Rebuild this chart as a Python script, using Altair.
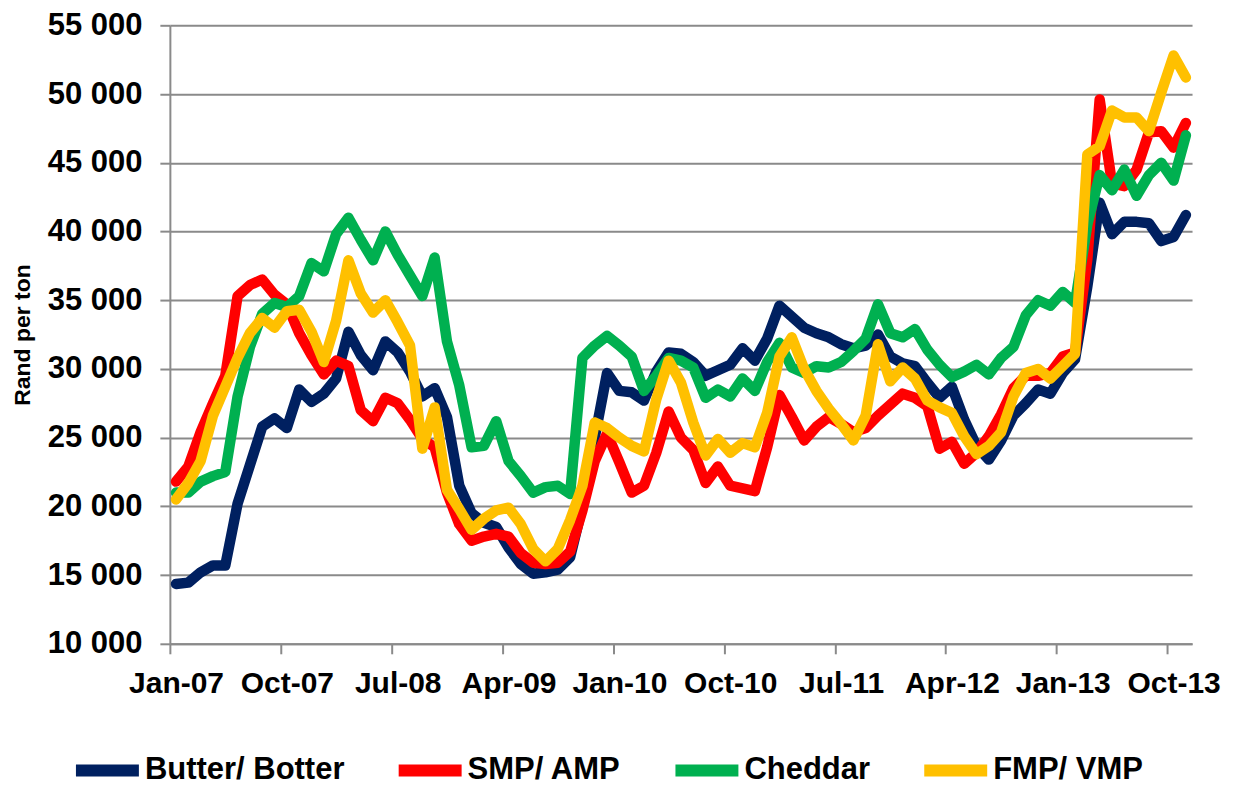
import altair as alt
import pandas as pd

# Monthly prices, Jan-07 .. Nov-13 (83 months), Rand per ton
butter = [14350, 14450, 15200, 15700, 15700, 20200, 23000, 25800, 26400, 25700, 28500, 27600,
          28200, 29300, 32700, 31000, 29900, 32000, 31200, 29800, 28000, 28600, 26500, 21500,
          19500, 18800, 18500, 17000, 15800, 15100, 15200, 15400, 16300, 20000, 25000, 29700,
          28400, 28300, 27700, 29800, 31200, 31100, 30500, 29500, 29900, 30300, 31500, 30600,
          32200, 34600, 33800, 33000, 32600, 32300, 31800, 31500, 31700, 32500, 30900, 30400,
          30200, 29000, 27900, 28700, 26300, 24400, 23400, 24800, 26600, 27500, 28500, 28200,
          29700, 30700, 36000, 42100, 39800, 40700, 40700, 40600, 39300, 39600, 41200]
smp = [21800, 22900, 25400, 27500, 29500, 35300, 36100, 36500, 35400, 34700, 32600, 31000,
       29600, 30600, 30200, 27000, 26200, 27900, 27500, 26300, 24900, 24300, 21000, 18700,
       17500, 17800, 18000, 17800, 16600, 15900, 15800, 15900, 16700, 19700, 23300, 25300,
       23200, 21000, 21500, 23900, 26900, 25000, 24100, 21700, 22900, 21500, 21300, 21100,
       24300, 28100, 26500, 24800, 25800, 26500, 26000, 25400, 25700, 26600, 27400, 28200,
       27900, 27300, 24200, 24700, 23100, 23900, 25100, 26700, 28600, 29500, 29500, 29700,
       30900, 31200, 38000, 49600, 43500, 43300, 44500, 47200, 47300, 46100, 47900]
cheddar = [21000, 21000, 21800, 22200, 22500, 28000, 31600, 34000, 34800, 34500, 35300, 37700,
           37100, 39800, 41000, 39400, 37900, 40000, 38300, 36800, 35300, 38100, 32000, 28800,
           24300, 24400, 26200, 23300, 22200, 21000, 21400, 21500, 20900, 30800, 31700, 32400,
           31700, 30900, 28400, 29500, 30800, 30600, 30100, 27900, 28500, 28000, 29300, 28400,
           30500, 31900, 30100, 29700, 30200, 30100, 30500, 31300, 32200, 34700, 32600, 32300,
           32900, 31400, 30300, 29400, 29800, 30300, 29600, 30800, 31600, 33900, 35000, 34600,
           35600, 34800, 40500, 44100, 43000, 44500, 42600, 44100, 45000, 43700, 47000]
fmp = [20500, 21700, 23300, 26600, 28700, 30800, 32600, 33700, 33000, 34200, 34300, 32700,
       30500, 33500, 37900, 35500, 34100, 35000, 33400, 31700, 24200, 27200, 21200, 19800,
       18300, 19100, 19700, 19900, 18700, 16900, 16000, 16900, 19000, 21500, 26100, 25700,
       25000, 24400, 24000, 27800, 30600, 29000, 26100, 23700, 24900, 23900, 24600, 24300,
       26800, 30900, 32300, 30000, 28400, 27100, 26000, 24800, 26600, 31800, 29100, 30100,
       29300, 27700, 27200, 26800, 25100, 23800, 24400, 25400, 28000, 29700, 30000, 29300,
       30200, 31100, 45600, 46200, 48800, 48300, 48300, 47300, 50100, 52800, 51200]

series_names = ["Butter/ Botter", "SMP/ AMP", "Cheddar", "FMP/ VMP"]
series_colors = ["#002060", "#FF0000", "#00B050", "#FFC000"]
tick_labels = ["Jan-07", "Oct-07", "Jul-08", "Apr-09", "Jan-10",
               "Oct-10", "Jul-11", "Apr-12", "Jan-13", "Oct-13"]

rows = []
for name, vals in zip(series_names, [butter, smp, cheddar, fmp]):
    for i, v in enumerate(vals):
        rows.append({"idx": i, "series": name, "value": v})
df = pd.DataFrame(rows)

FONT = "Liberation Sans"
GRAY = "#8a8a8a"
n = len(butter)

label_js = "[" + ",".join("'%s'" % t for t in tick_labels) + "]"

x_enc = alt.X(
    "idx:Q",
    scale=alt.Scale(domain=[-0.5, n - 0.5], nice=False, zero=False),
    axis=alt.Axis(
        values=[-0.5 + 9 * k for k in range(len(tick_labels))],
        labelExpr=label_js + "[round((datum.value + 0.5) / 9)]",
        labelOffset=6.2,
        labelFont=FONT, labelFontSize=30, labelFontWeight="bold", labelColor="black",
        labelPadding=15, labelOverlap=False, labelFlush=False,
        tickSize=10, tickColor=GRAY, tickWidth=2,
        domainColor=GRAY, domainWidth=2, grid=False, title=None,
    ),
)
y_enc = alt.Y(
    "value:Q",
    scale=alt.Scale(domain=[10000, 55000], nice=False, zero=False),
    axis=alt.Axis(
        values=list(range(10000, 55001, 5000)),
        labelExpr="replace(format(datum.value, ','), ',', ' ')",
        labelFont=FONT, labelFontSize=31, labelFontWeight="bold", labelColor="black",
        labelPadding=18,
        tickSize=10, tickColor=GRAY, tickWidth=2,
        domainColor=GRAY, domainWidth=2,
        grid=True, gridColor=GRAY, gridWidth=2,
        title="Rand per ton", titleFont=FONT, titleFontSize=23, titleFontWeight="bold",
        titleColor="black", titlePadding=13,
    ),
)

color_enc = alt.Color(
    "series:N",
    scale=alt.Scale(domain=series_names, range=series_colors),
    legend=alt.Legend(
        title=None, orient="none", direction="horizontal", columns=4,
        legendX=-100, legendY=708,
        symbolType="stroke", symbolSize=3969, symbolStrokeWidth=12,
        labelFont=FONT, labelFontSize=31, labelFontWeight="bold", labelColor="black",
        labelOffset=0, columnPadding=30, labelLimit=0,
    ),
)

layers = []
for name in series_names:
    layers.append(
        alt.Chart(df)
        .transform_filter(alt.datum.series == name)
        .mark_line(strokeWidth=10.5, strokeCap="round", strokeJoin="round")
        .encode(x=x_enc, y=y_enc, color=color_enc)
    )

chart = (
    alt.layer(*layers)
    .properties(width=1023, height=619, autosize="none",
                padding={"left": 162, "top": 17, "right": 34, "bottom": 142})
    .configure_view(stroke=None)
)

chart.save("out.html", embed_options={"renderer": "svg", "actions": False})
